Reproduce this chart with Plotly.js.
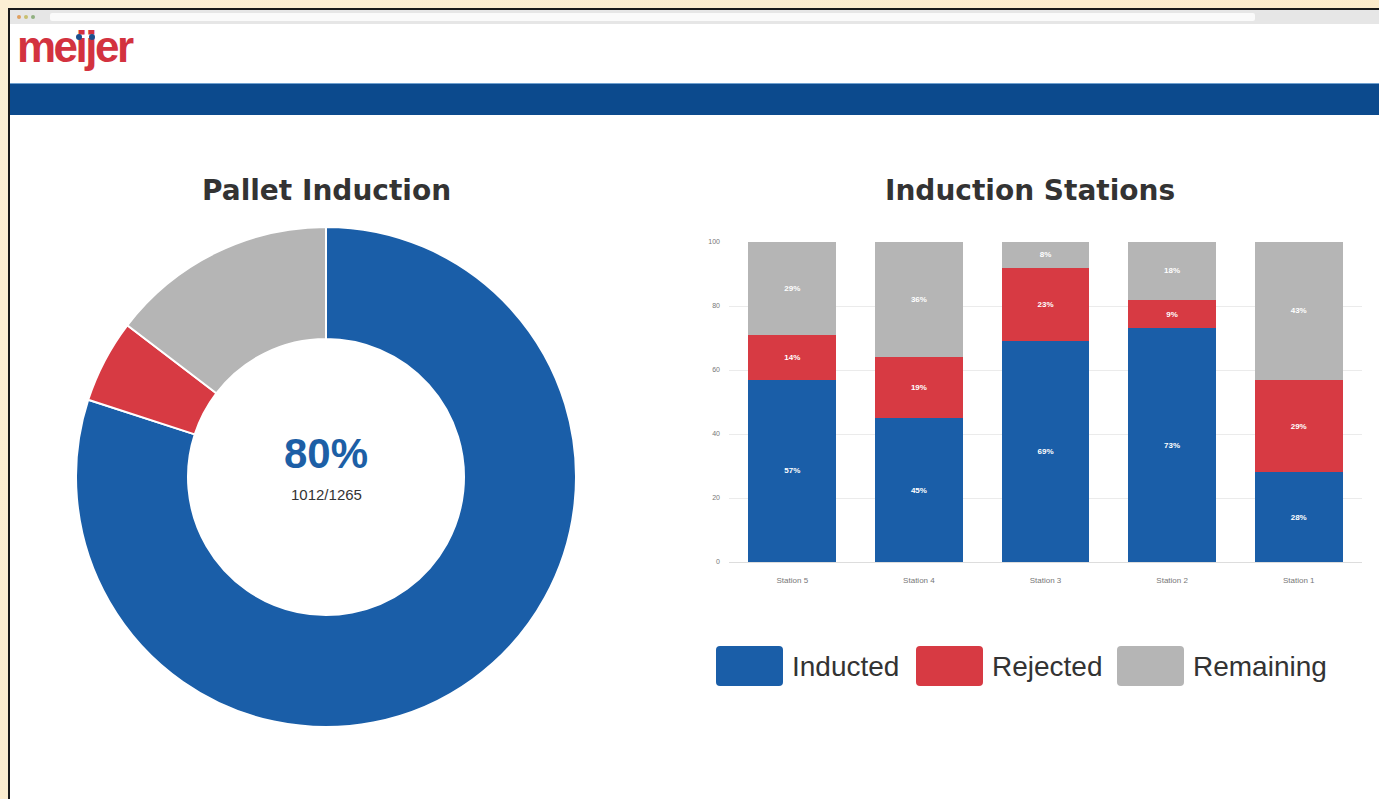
<!DOCTYPE html>
<html>
<head>
<meta charset="utf-8">
<script src="https://cdn.plot.ly/plotly-3.0.1.min.js"></script>
<style>
  html, body { margin:0; padding:0; width:1379px; height:799px; overflow:hidden;
    background: linear-gradient(135deg, #fcefd4 0%, #fbe9c6 100%); }
  #frame { position:absolute; left:8px; top:8px; width:1380px; height:800px;
    border-left:2px solid #1a1a1a; border-top:2px solid #1a1a1a; background:#ffffff; }
  #topbar { position:absolute; left:0; top:0; width:100%; height:14px; background:#e6e6e6; }
  #addr { position:absolute; left:40px; top:3px; width:1205px; height:8px; background:#fafafa; border-radius:2px; }
  .dot { position:absolute; top:5px; width:4px; height:4px; border-radius:2px; }
  #header { position:absolute; left:0; top:14px; width:100%; height:59px; background:#ffffff; }
  #logo { position:absolute; left:7px; top:-2px; font-family:"Liberation Sans", Arial, sans-serif;
    font-weight:bold; font-size:44px; color:#d3323f; letter-spacing:-2.5px; }
  .ldot { position:absolute; width:6px; height:6px; border-radius:3px; background:#1b4f8e; }
  #band { position:absolute; left:0; top:73px; width:100%; height:31px; background:#0c4a8d;
    border-top:1px solid #6fa0cf; }
  #chart { position:absolute; left:0; top:0; width:1379px; height:799px; }
</style>
</head>
<body>
<div id="frame">
  <div id="topbar">
    <div class="dot" style="left:7px;background:#e0a060"></div>
    <div class="dot" style="left:14px;background:#c8c070"></div>
    <div class="dot" style="left:21px;background:#90b080"></div>
    <div id="addr"></div>
  </div>
  <div id="header">
    <div id="logo">meijer</div>
    <div class="ldot" style="left:66px;top:10px"></div>
    <div class="ldot" style="left:79px;top:10px"></div>
  </div>
  <div id="band"></div>
</div>
<div id="chart"></div>
<script>
// ---------- data ----------
var donutLabels = ["Inducted", "Rejected", "Remaining"];
var donutValues = [1012, 68, 185];
var stations = ["Station 5", "Station 4", "Station 3", "Station 2", "Station 1"];
var inducted  = [57, 45, 69, 73, 28];
var rejected  = [14, 19, 23, 9, 29];
var remaining = [29, 36, 8, 18, 43];
var seriesNames = ["Inducted", "Rejected", "Remaining"];
var yTicks = [0, 20, 40, 60, 80, 100];

// ---------- styling ----------
var BLUE = "#1a5ea8", RED = "#d73a43", GRAY = "#b5b5b5";
var COLORS = [BLUE, RED, GRAY];
var W = 1379, H = 799;
function fx(px){ return px / W; }
function fy(py){ return 1 - py / H; }
var FONT = "Liberation Sans, Arial, sans-serif";
var TITLEFONT = "DejaVu Sans, Liberation Sans, Arial, sans-serif";

var total = donutValues.reduce(function(a,b){return a+b;}, 0);
var pct = Math.round(donutValues[0] / total * 100);

var traces = [];
traces.push({
  type: "pie",
  labels: donutLabels,
  values: donutValues,
  hole: 0.552,
  sort: false,
  direction: "clockwise",
  rotation: 0,
  textinfo: "none",
  hoverinfo: "label+value+percent",
  marker: { colors: COLORS, line: { color: "#ffffff", width: 2 } },
  domain: { x: [fx(76), fx(576)], y: [fy(727), fy(227)] },
  showlegend: false
});

var barSeries = [inducted, rejected, remaining];
for (var i = 0; i < barSeries.length; i++) {
  traces.push({
    type: "bar",
    name: seriesNames[i],
    x: stations,
    y: barSeries[i],
    marker: { color: COLORS[i], line: { width: 0 } },
    texttemplate: "%{y}%",
    textposition: "inside",
    insidetextanchor: "middle",
    textangle: 0,
    constraintext: "none",
    textfont: { color: "#ffffff", size: 8, family: FONT, weight: "bold" },
    xaxis: "x", yaxis: "y",
    showlegend: false,
    hoverinfo: "x+y+name"
  });
}

// legend built from series names
var shapes = [];
var annotations = [];
var swatchX = [716, 916, 1117];
function roundRect(x0, y0, x1, y1, r) {
  function P(x, y){ return fx(x) + "," + fy(y); }
  return "M " + P(x0 + r, y0) + " L " + P(x1 - r, y0) +
         " Q " + P(x1, y0) + " " + P(x1, y0 + r) +
         " L " + P(x1, y1 - r) +
         " Q " + P(x1, y1) + " " + P(x1 - r, y1) +
         " L " + P(x0 + r, y1) +
         " Q " + P(x0, y1) + " " + P(x0, y1 - r) +
         " L " + P(x0, y0 + r) +
         " Q " + P(x0, y0) + " " + P(x0 + r, y0) + " Z";
}
for (var k = 0; k < seriesNames.length; k++) {
  shapes.push({ type: "path", xref: "paper", yref: "paper",
    path: roundRect(swatchX[k], 646, swatchX[k] + 67, 686, 4),
    fillcolor: COLORS[k], line: { width: 0 } });
  annotations.push({ xref: "paper", yref: "paper", x: fx(swatchX[k] + 74), y: fy(666),
    xanchor: "left", yanchor: "middle", showarrow: false, text: seriesNames[k],
    font: { family: FONT, size: 28, color: "#333333" } });
}

// titles
annotations.push({ xref: "paper", yref: "paper", x: fx(326), y: fy(190), xanchor: "center", yanchor: "middle",
  showarrow: false, text: "<b>Pallet Induction</b>", font: { family: TITLEFONT, size: 28, color: "#333333" } });
annotations.push({ xref: "paper", yref: "paper", x: fx(1030), y: fy(190), xanchor: "center", yanchor: "middle",
  showarrow: false, text: "<b>Induction Stations</b>", font: { family: TITLEFONT, size: 28, color: "#333333" } });
// donut centre
annotations.push({ xref: "paper", yref: "paper", x: fx(326), y: fy(453), xanchor: "center", yanchor: "middle",
  showarrow: false, text: "<b>" + pct + "%</b>", font: { family: FONT, size: 42, color: "#1d5fa6" } });
annotations.push({ xref: "paper", yref: "paper", x: fx(326), y: fy(494), xanchor: "center", yanchor: "middle",
  showarrow: false, text: donutValues[0] + "/" + total, font: { family: FONT, size: 15, color: "#333333" } });

var layout = {
  width: W, height: H,
  margin: { l: 0, r: 0, t: 0, b: 0, pad: 0 },
  paper_bgcolor: "rgba(0,0,0,0)",
  plot_bgcolor: "rgba(0,0,0,0)",
  barmode: "stack",
  bargap: 0.305,
  showlegend: false,
  xaxis: { domain: [fx(729), fx(1362)], showgrid: false, zeroline: false, showline: false,
    ticks: "", ticklabelstandoff: 12,
    tickfont: { family: FONT, size: 8, color: "#777777" }, fixedrange: true },
  yaxis: { domain: [fy(562), fy(242)], range: [0, 100], tickvals: yTicks,
    showgrid: true, gridcolor: "#ebebeb", gridwidth: 1, zeroline: true, zerolinecolor: "#dddddd",
    showline: false, ticks: "", ticklabelstandoff: 8,
    tickfont: { family: FONT, size: 7, color: "#777777" }, fixedrange: true },
  shapes: shapes,
  annotations: annotations,
  font: { family: FONT }
};

Plotly.newPlot("chart", traces, layout, { displayModeBar: false, staticPlot: true });
</script>
</body>
</html>
